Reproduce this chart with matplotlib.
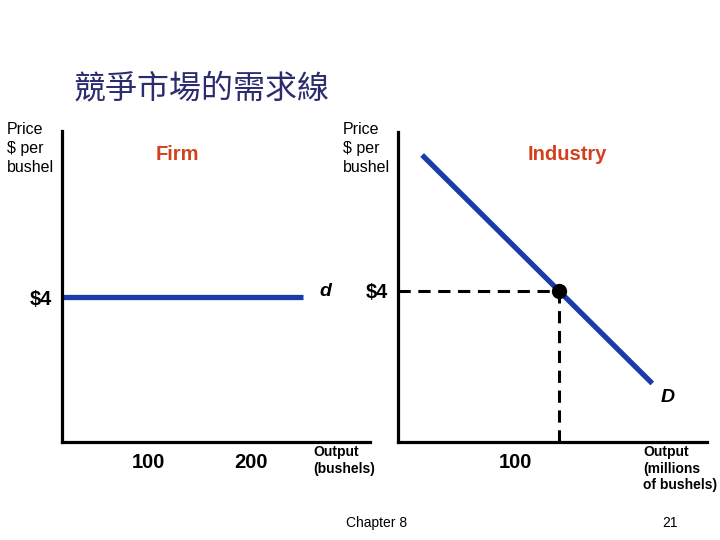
import matplotlib.pyplot as plt
from matplotlib.transforms import ScaledTranslation

plt.rcParams['font.family'] = ['Liberation Sans', 'DejaVu Sans']

# firm: perfectly elastic demand at the market price
firm_qty = [0, 250]
firm_price = [4, 4]
firm_ticks = [100, 200]

# industry: downward sloping demand
ind_qty = [15, 158]
ind_price = [7.6, 1.55]
eq_qty = 100
eq_price = 4

blue = '#1a3caa'
red = '#d2401e'
W, H = 720, 540


def px(x, y):
    return x / W, 1 - y / H


fig = plt.figure(figsize=(7.2, 5.4), dpi=100)

ax1 = fig.add_axes([62 / W, 1 - 442 / H, 308 / W, 311 / H])
ax2 = fig.add_axes([398 / W, 1 - 442 / H, 309 / W, 310 / H])

for ax in (ax1, ax2):
    for s in ('top', 'right'):
        ax.spines[s].set_visible(False)
    for s in ('left', 'bottom'):
        ax.spines[s].set_linewidth(2.3)
    ax.tick_params(length=0, labelsize=14.5)
    ax.patch.set_alpha(0)

# left panel: firm
ax1.plot(firm_qty, firm_price, color=blue, lw=3.8, solid_capstyle='butt')
ax1.set_xlim(16.5, 315.5)
ax1.set_ylim(0, 8.58)
ax1.set_xticks(firm_ticks)
ax1.set_xticklabels([str(t) for t in firm_ticks], fontweight='bold')
ax1.set_yticks([eq_price])
ax1.set_yticklabels(['$4'], fontweight='bold')
ax1.tick_params(axis='x', pad=8)
ax1.tick_params(axis='y', pad=7)

# right panel: industry
ax2.plot(ind_qty, ind_price, color=blue, lw=3.8, solid_capstyle='butt')
ax2.plot([0, eq_qty], [eq_price, eq_price], color='black', lw=2.2,
         dashes=(4, 2.5))
ax2.plot([eq_qty, eq_qty], [0, eq_price], color='black', lw=2.2,
         dashes=(4, 2.5))
ax2.plot([eq_qty], [eq_price], 'o', color='black', ms=10, zorder=5)
ax2.set_xlim(0, 192)
ax2.set_ylim(0, 8.21)
ax2.set_xticks([eq_qty])
ax2.set_xticklabels([str(eq_qty)], fontweight='bold')
ax2.set_yticks([eq_price])
ax2.set_yticklabels(['$4'], fontweight='bold')
ax2.tick_params(axis='x', pad=8)
ax2.tick_params(axis='y', pad=7)
for lab in ax2.get_xticklabels():
    lab.set_transform(lab.get_transform() +
                      ScaledTranslation(-0.44, 0, fig.dpi_scale_trans))

# texts
fig.text(*px(74, 88), '競爭市場的需求線', fontsize=23, color='#2b2b6e',
         family=['Noto Sans CJK TC', 'DejaVu Sans'], fontweight='light',
         ha='left', va='center')
fig.text(*px(7, 122), 'Price\n$ per\nbushel', fontsize=11.5, ha='left',
         va='top', linespacing=1.32)
fig.text(*px(343, 122), 'Price\n$ per\nbushel', fontsize=11.5, ha='left',
         va='top', linespacing=1.32)
fig.text(*px(177, 154), 'Firm', fontsize=14.5, color=red, fontweight='bold',
         ha='center', va='center')
fig.text(*px(567, 154), 'Industry', fontsize=14.5, color=red,
         fontweight='bold', ha='center', va='center')
fig.text(*px(325, 292), 'd', fontsize=14, fontweight='bold',
         fontstyle='italic', ha='center', va='center')
fig.text(*px(668, 397), 'D', fontsize=14, fontweight='bold',
         fontstyle='italic', ha='center', va='center')
fig.text(*px(313, 445), 'Output\n(bushels)', fontsize=10,
         fontweight='bold', ha='left', va='top', linespacing=1.25)
fig.text(*px(643, 445), 'Output\n(millions\nof bushels)', fontsize=10,
         fontweight='bold', ha='left', va='top', linespacing=1.25)
fig.text(*px(377, 523), 'Chapter 8', fontsize=10, ha='center',
         va='center')
fig.text(*px(670, 523), '21', fontsize=10, ha='center', va='center')

fig.savefig('out.png', dpi=100)
